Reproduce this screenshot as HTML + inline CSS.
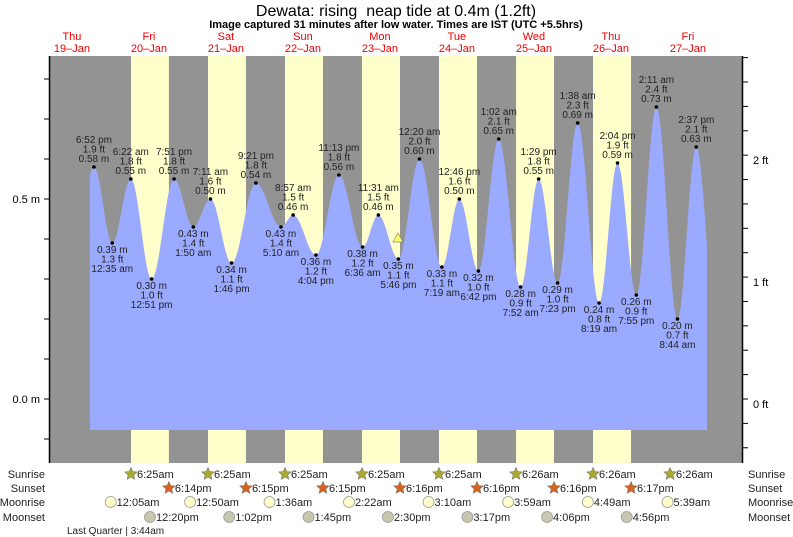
<!DOCTYPE html>
<html><head><meta charset="utf-8"><style>
html,body{margin:0;padding:0;background:#fff;width:793px;height:537px;overflow:hidden}
svg{display:block;font-family:"Liberation Sans",Arial,sans-serif}
</style></head><body>
<svg id="s" width="793" height="537" viewBox="0 0 793 537" xmlns="http://www.w3.org/2000/svg">
<text x="396" y="16" font-size="16" text-anchor="middle">Dewata: rising&#160; neap tide at 0.4m (1.2ft)</text>
<text x="396" y="28" font-size="11" font-weight="bold" text-anchor="middle">Image captured 31 minutes after low water. Times are IST (UTC +5.5hrs)</text>
<g id="g"></g>
</svg>
<script>
var NS="http://www.w3.org/2000/svg",g=document.getElementById('g');
function el(t,a,txt){var e=document.createElementNS(NS,t);for(var k in a)e.setAttribute(k,a[k]);if(txt!=null)e.textContent=txt;g.appendChild(e);return e;}
var X0=33.4,DW=77;
function tx(d,s){var m=s.match(/(\d+):(\d+)\s*(am|pm)/);var h=+m[1]%12+(m[3]=='pm'?12:0);return X0+DW*(d+(h+ +m[2]/60)/24);}
function ty(v){return 399-400*v;}
el('rect',{x:50,y:56,width:692,height:407,fill:'#939393'});
var sunr=['6:25am','6:25am','6:25am','6:25am','6:25am','6:26am','6:26am','6:26am'];
var suns=['6:14pm','6:15pm','6:15pm','6:16pm','6:16pm','6:16pm','6:17pm'];
for(var i=0;i<7;i++){var a=tx(i+1,sunr[i]),b=tx(i+1,suns[i]);el('rect',{x:a,y:56,width:b-a,height:407,fill:'#ffffcc'});}
var T=[[0,'6:52pm',.58,'1.9'],[1,'12:35am',.39,'1.3'],[1,'6:22am',.55,'1.8'],[1,'12:51pm',.30,'1.0'],[1,'7:51pm',.55,'1.8'],
[2,'1:50am',.43,'1.4'],[2,'7:11am',.50,'1.6'],[2,'1:46pm',.34,'1.1'],[2,'9:21pm',.54,'1.8'],
[3,'5:10am',.43,'1.4'],[3,'8:57am',.46,'1.5'],[3,'4:04pm',.36,'1.2'],[3,'11:13pm',.56,'1.8'],
[4,'6:36am',.38,'1.2'],[4,'11:31am',.46,'1.5'],[4,'5:46pm',.35,'1.1'],
[5,'12:20am',.60,'2.0'],[5,'7:19am',.33,'1.1'],[5,'12:46pm',.50,'1.6'],[5,'6:42pm',.32,'1.0'],
[6,'1:02am',.65,'2.1'],[6,'7:52am',.28,'0.9'],[6,'1:29pm',.55,'1.8'],[6,'7:23pm',.29,'1.0'],
[7,'1:38am',.69,'2.3'],[7,'8:19am',.24,'0.8'],[7,'2:04pm',.59,'1.9'],[7,'7:55pm',.26,'0.9'],
[8,'2:11am',.73,'2.4'],[8,'8:44am',.20,'0.7'],[8,'2:37pm',.63,'2.1']];
var P=T.map(function(t){return [tx(t[0],t[1]),t[2]];});
P.unshift([P[0][0]-(P[1][0]-P[0][0]),0.39]);P.push([P[P.length-1][0]+(P[P.length-1][0]-P[P.length-2][0]),0.22]);
function val(x){for(var i=0;i<P.length-1;i++){if(x>=P[i][0]&&x<=P[i+1][0]){var f=(x-P[i][0])/(P[i+1][0]-P[i][0]);return P[i][1]+(P[i+1][1]-P[i][1])*(1-Math.cos(Math.PI*f))/2;}}return 0.4;}
var d='M90,430';for(var x=90;x<=707;x+=1)d+=' L'+x+','+ty(val(x)).toFixed(1);d+=' L707,430 Z';
el('path',{d:d,fill:'#9aabff'});
T.forEach(function(t,i){var x=tx(t[0],t[1]),y=ty(t[2]);el('circle',{cx:x,cy:y,r:1.8,fill:'#000'});
var tm=t[1].replace(/(am|pm)/,' $1'),m=t[2].toFixed(2)+' m',f=t[3]+' ft';
var hi=(i%2==0);var L=hi?[tm,f,m]:[m,f,tm];var b=hi?y-24:y+10;
for(var k=0;k<3;k++)el('text',{x:x,y:b+k*9.5,'font-size':10,'text-anchor':'middle',fill:'#222'},L[k]);});
el('polygon',{points:'398,233 393,242 403,242',fill:'#ffff66',stroke:'#888','stroke-width':0.7});
el('line',{x1:49.5,y1:56,x2:49.5,y2:463,stroke:'#000','stroke-width':1.5});
el('line',{x1:742.5,y1:56,x2:742.5,y2:463,stroke:'#000','stroke-width':1.5});
for(var v=-0.1;v<=0.81;v+=0.1){var y=ty(v);if(y<56||y>463)continue;el('line',{x1:44,y1:y,x2:49,y2:y,stroke:'#000'});}
el('text',{x:40,y:203,'font-size':11,'text-anchor':'end'},'0.5 m');
el('text',{x:40,y:403,'font-size':11,'text-anchor':'end'},'0.0 m');
for(var k=-3;k<=14;k++){var y=399-24.384*k;if(y<56||y>463)continue;el('line',{x1:743,y1:y,x2:748,y2:y,stroke:'#000'});}
el('text',{x:753,y:164,'font-size':11},'2 ft');el('text',{x:753,y:286,'font-size':11},'1 ft');el('text',{x:753,y:408,'font-size':11},'0 ft');
var dn=['Thu','Fri','Sat','Sun','Mon','Tue','Wed','Thu','Fri'];
for(var i=0;i<9;i++){var x=X0+DW*(i+0.5);el('text',{x:x,y:40,'font-size':11,'text-anchor':'middle',fill:'#e00'},dn[i]);el('text',{x:x,y:52,'font-size':11,'text-anchor':'middle',fill:'#e00'},(19+i)+'\u2013Jan');}
var rows=[['Sunrise',478],['Sunset',492],['Moonrise',506],['Moonset',521]];
rows.forEach(function(r){el('text',{x:45,y:r[1],'font-size':11,'text-anchor':'end',fill:'#222'},r[0]);el('text',{x:748,y:r[1],'font-size':11,fill:'#222'},r[0]);});
function star(cx,cy,fill){var p=[];for(var i=0;i<10;i++){var a=-Math.PI/2+i*Math.PI/5,r=i%2?3:6.5;p.push((cx+r*Math.cos(a)).toFixed(1)+','+(cy+r*Math.sin(a)).toFixed(1));}el('polygon',{points:p.join(' '),fill:fill,stroke:'#776','stroke-width':0.6});}
function item(x,y,txt,kind){if(kind==0)star(x,y-4,'#aaaa33');else if(kind==1)star(x,y-4,'#d86020');else el('circle',{cx:x,cy:y-4,r:5.5,fill:kind==2?'#ffffcc':'#c8c8b0',stroke:'#999','stroke-width':0.8});
el('text',{x:x+6,y:y,'font-size':11,fill:'#222'},txt);}
for(var i=0;i<8;i++)item(tx(i+1,sunr[i]),478,sunr[i],0);
for(var i=0;i<7;i++)item(tx(i+1,suns[i]),492,suns[i],1);
var mr=['12:05am','12:50am','1:36am','2:22am','3:10am','3:59am','4:49am','5:39am'];
for(var i=0;i<8;i++)item(tx(i+1,mr[i]),506,mr[i],2);
var ms=['12:20pm','1:02pm','1:45pm','2:30pm','3:17pm','4:06pm','4:56pm'];
for(var i=0;i<7;i++)item(tx(i+1,ms[i]),521,ms[i],3);
el('text',{x:67,y:534,'font-size':10,fill:'#222'},'Last Quarter | 3:44am');
</script>
</body></html>
